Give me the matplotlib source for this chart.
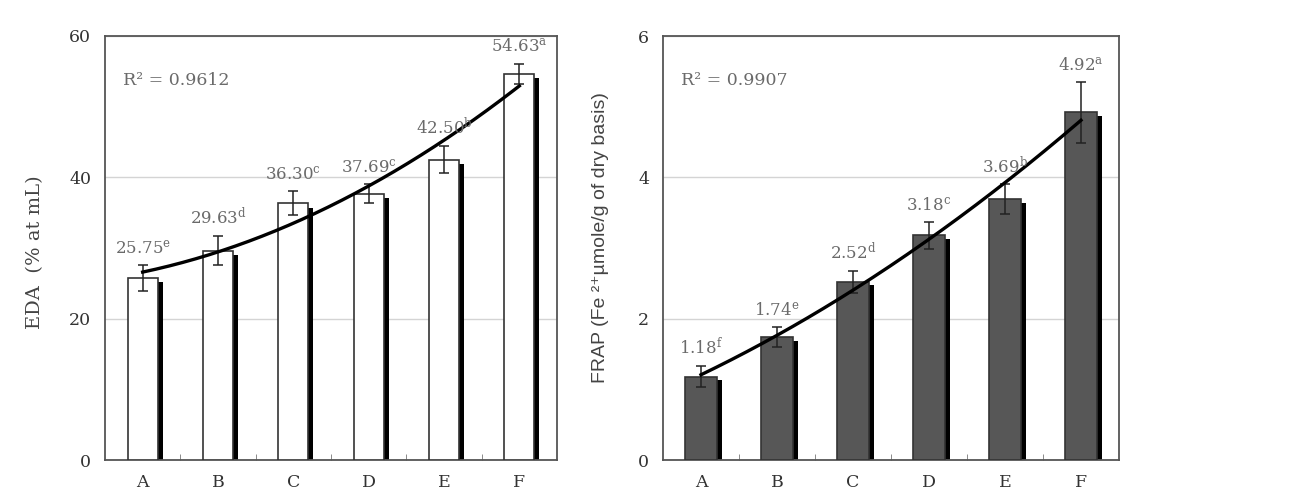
import numpy as np
import matplotlib.pyplot as plt

plt.rcParams['mathtext.fontset'] = 'dejavuserif'

cats = ['A', 'B', 'C', 'D', 'E', 'F']

eda = [25.75, 29.63, 36.30, 37.69, 42.50, 54.63]
eda_err = [1.8, 2.0, 1.7, 1.3, 1.9, 1.4]
eda_sig = ['e', 'd', 'c', 'c', 'b', 'a']

frap = [1.18, 1.74, 2.52, 3.18, 3.69, 4.92]
frap_err = [0.15, 0.14, 0.16, 0.19, 0.21, 0.43]
frap_sig = ['f', 'e', 'd', 'c', 'b', 'a']

serif = 'DejaVu Serif'
txt_gray = '#6a6a6a'


def panel(ax, vals, errs, sig, ymax, yticks, fill, width, shx, shy, r2, lab_off):
    x = np.arange(len(cats))
    # drop shadow behind each bar
    ax.bar(x + shx, np.array(vals) - shy, width=width, color='black', zorder=2)
    ax.bar(x, vals, width=width, color=fill, edgecolor='#333333', linewidth=1.2, zorder=3)
    ax.errorbar(x, vals, yerr=errs, fmt='none', ecolor='#222222', elinewidth=1.1,
                capsize=3.5, capthick=1.1, zorder=5)
    # quadratic trend line
    c = np.polyfit(x, vals, 2)
    xs = np.linspace(0, len(cats) - 1, 200)
    ax.plot(xs, np.polyval(c, xs), color='black', lw=2.4, zorder=6)
    for xi, v, e, s in zip(x, vals, errs, sig):
        ax.annotate(f'{v:.2f}$^{{\\mathrm{{{s}}}}}$', (xi, v + e), xytext=(0, lab_off),
                    textcoords='offset points', ha='center', va='bottom',
                    fontsize=12, color=txt_gray, family=serif, zorder=7)
    ax.text(0.04, 0.896, r2, transform=ax.transAxes,
            fontsize=12.5, color=txt_gray, family=serif, va='center')
    ax.set_xlim(-0.5, len(cats) - 0.5)
    ax.set_ylim(0, ymax)
    ax.set_yticks(yticks)
    ax.set_xticks(x)
    ax.set_xticklabels(cats)
    ax.set_xticks(x[:-1] + 0.5, minor=True)
    ax.yaxis.grid(True, color='#d4d4d4', lw=1)
    ax.set_axisbelow(True)
    ax.tick_params(length=0, pad=10, labelsize=12.5, labelcolor='#333333')
    ax.tick_params(axis='x', which='minor', direction='in', length=4, color='#777777')
    for lab in ax.get_xticklabels() + ax.get_yticklabels():
        lab.set_family(serif)
    for sp in ax.spines.values():
        sp.set_color('#555555')
        sp.set_linewidth(1.3)


fig = plt.figure(figsize=(12.92, 4.98), dpi=100)
ax1 = fig.add_axes([105 / 1292, 38 / 498, 452 / 1292, 424 / 498])
ax2 = fig.add_axes([663 / 1292, 38 / 498, 456 / 1292, 424 / 498])

panel(ax1, eda, eda_err, eda_sig, 60, [0, 20, 40, 60], 'white', 0.40, 0.066, 0.6,
      'R² = 0.9612', 6)
panel(ax2, frap, frap_err, frap_sig, 6, [0, 2, 4, 6], '#575757', 0.41, 0.075, 0.05,
      'R² = 0.9907', 5.5)

ax1.set_ylabel('EDA  (% at mL)', fontsize=14, family=serif, color='#444444')
ax1.yaxis.set_label_coords(-0.135, 0.49)
ax2.set_ylabel('FRAP (Fe ²⁺µmole/g of dry basis)', fontsize=14,
               family=['Liberation Sans', 'DejaVu Sans'], color='#444444')
ax2.yaxis.set_label_coords(-0.118, 0.525)

fig.savefig('out.png', dpi=100)
